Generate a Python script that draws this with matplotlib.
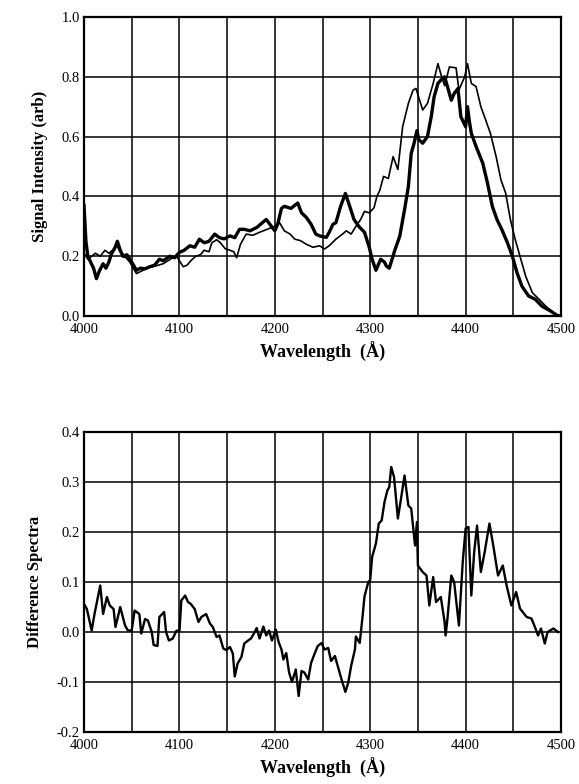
import numpy as np
import matplotlib
matplotlib.use('Agg')
from matplotlib import pyplot as plt
from matplotlib.ticker import MultipleLocator, FormatStrFormatter
from matplotlib.transforms import ScaledTranslation

# top panel, thick trace (wavelength in A, signal in arb)
thick_wl = [4000, 4002, 4004, 4007, 4010, 4013, 4016, 4020, 4023, 4026, 4029, 4032, 4035,
            4038, 4041, 4045, 4048, 4051, 4055, 4059, 4064, 4069, 4074, 4079, 4083, 4090,
            4095, 4100, 4105, 4111, 4116, 4121, 4126, 4131, 4137, 4142, 4147, 4153, 4158,
            4163, 4168, 4174, 4181, 4191, 4200, 4203, 4207, 4210, 4217, 4224, 4228, 4233,
            4238, 4243, 4247, 4254, 4257, 4261, 4264, 4269, 4274, 4278, 4283, 4288, 4294,
            4299, 4302, 4306, 4311, 4315, 4317, 4320, 4326, 4331, 4336, 4340, 4343, 4346,
            4349, 4351, 4355, 4360, 4364, 4367, 4371, 4374, 4378, 4381, 4385, 4388, 4392,
            4395, 4400, 4402, 4404, 4406, 4411, 4418, 4423, 4428, 4433, 4438, 4444, 4449,
            4454, 4459, 4466, 4473, 4480, 4489, 4497, 4500]
thick_val = [0.37, 0.25, 0.20, 0.18, 0.16, 0.125, 0.15, 0.175, 0.16, 0.18, 0.21, 0.225, 0.25,
             0.22, 0.20, 0.205, 0.19, 0.175, 0.153, 0.16, 0.158, 0.165, 0.17, 0.19, 0.185, 0.20,
             0.195, 0.213, 0.22, 0.235, 0.23, 0.257, 0.245, 0.25, 0.274, 0.262, 0.258, 0.268, 0.262,
             0.29, 0.29, 0.285, 0.296, 0.323, 0.285, 0.307, 0.36, 0.367, 0.36, 0.378, 0.345, 0.33,
             0.307, 0.274, 0.268, 0.263, 0.28, 0.307, 0.312, 0.367, 0.41, 0.372, 0.323, 0.30, 0.28,
             0.23, 0.19, 0.153, 0.19, 0.18, 0.167, 0.16, 0.222, 0.267, 0.356, 0.433, 0.544, 0.578,
             0.62, 0.59, 0.578, 0.60, 0.667, 0.733, 0.778, 0.789, 0.80, 0.767, 0.722, 0.744, 0.761,
             0.667, 0.633, 0.70, 0.65, 0.611, 0.567, 0.511, 0.444, 0.367, 0.322, 0.289, 0.244, 0.20,
             0.144, 0.10, 0.067, 0.056, 0.033, 0.017, 0.0, 0.0]

# top panel, thin trace
thin_wl = [4000, 4004, 4008, 4012, 4017, 4022, 4026, 4030, 4034, 4037, 4040, 4044, 4048,
           4052, 4055, 4060, 4066, 4072, 4078, 4083, 4088, 4093, 4097, 4100, 4104, 4108,
           4112, 4117, 4122, 4126, 4131, 4134, 4139, 4143, 4148, 4153, 4157, 4160, 4164,
           4170, 4177, 4184, 4192, 4200, 4205, 4210, 4216, 4221, 4227, 4233, 4240, 4247,
           4252, 4257, 4264, 4271, 4275, 4280, 4285, 4290, 4294, 4299, 4304, 4307, 4310,
           4314, 4319, 4324, 4329, 4334, 4340, 4345, 4348, 4355, 4360, 4366, 4371, 4374,
           4378, 4383, 4390, 4393, 4399, 4402, 4406, 4411, 4416, 4421, 4426, 4432, 4437,
           4442, 4447, 4452, 4458, 4463, 4470, 4477, 4484, 4494, 4500]
thin_val = [0.21, 0.19, 0.20, 0.21, 0.20, 0.22, 0.21, 0.22, 0.24, 0.22, 0.20, 0.195, 0.18,
            0.158, 0.142, 0.15, 0.16, 0.165, 0.17, 0.175, 0.185, 0.195, 0.20, 0.185, 0.165, 0.17,
            0.185, 0.20, 0.205, 0.22, 0.215, 0.245, 0.255, 0.245, 0.225, 0.22, 0.215, 0.195, 0.24,
            0.274, 0.27, 0.28, 0.29, 0.30, 0.312, 0.285, 0.274, 0.257, 0.252, 0.24, 0.23, 0.235,
            0.224, 0.235, 0.257, 0.274, 0.285, 0.274, 0.30, 0.323, 0.35, 0.345, 0.362, 0.40, 0.42,
            0.467, 0.46, 0.533, 0.49, 0.633, 0.711, 0.756, 0.761, 0.689, 0.711, 0.778, 0.844, 0.81,
            0.77, 0.833, 0.83, 0.756, 0.80, 0.844, 0.778, 0.767, 0.70, 0.656, 0.611, 0.533, 0.456,
            0.411, 0.322, 0.256, 0.189, 0.133, 0.078, 0.056, 0.033, 0.006, 0.0]

# bottom panel, difference spectrum
diff_wl = [4000, 4003, 4008, 4011, 4017, 4020, 4024, 4027, 4031, 4033, 4038, 4043, 4046,
           4050, 4053, 4058, 4060, 4064, 4067, 4071, 4073, 4077, 4079, 4084, 4086, 4089,
           4093, 4097, 4100, 4102, 4106, 4109, 4112, 4116, 4120, 4123, 4128, 4132, 4135,
           4139, 4142, 4146, 4149, 4153, 4156, 4158, 4161, 4165, 4168, 4172, 4175, 4179,
           4181, 4184, 4188, 4191, 4194, 4197, 4201, 4204, 4207, 4209, 4212, 4215, 4218,
           4222, 4225, 4228, 4231, 4235, 4238, 4242, 4245, 4249, 4252, 4256, 4259, 4263,
           4266, 4270, 4274, 4277, 4280, 4284, 4285, 4289, 4292, 4294, 4298, 4300, 4302,
           4306, 4309, 4312, 4315, 4318, 4320, 4322, 4325, 4329, 4332, 4336, 4340, 4343,
           4347, 4349, 4350, 4355, 4359, 4362, 4366, 4369, 4374, 4378, 4379, 4381, 4385,
           4388, 4393, 4397, 4400, 4403, 4406, 4409, 4412, 4416, 4420, 4425, 4429, 4434,
           4439, 4443, 4448, 4453, 4457, 4464, 4469, 4472, 4476, 4479, 4483, 4486, 4492,
           4497]
diff_val = [0.056, 0.046, 0.003, 0.036, 0.093, 0.036, 0.07, 0.053, 0.046, 0.01, 0.05, 0.013, 0.003,
            0.003, 0.043, 0.036, -0.003, 0.026, 0.023, 0.0, -0.026, -0.028, 0.03, 0.04, 0.0, -0.017,
            -0.013, 0.003, 0.0, 0.063, 0.073, 0.06, 0.056, 0.046, 0.02, 0.03, 0.036, 0.017, 0.01,
            -0.01, -0.007, -0.033, -0.036, -0.03, -0.043, -0.089, -0.063, -0.05, -0.023, -0.017, -0.013, 0.0,
            0.008, -0.013, 0.011, -0.007, 0.003, -0.017, 0.005, -0.02, -0.035, -0.055, -0.042, -0.081, -0.1,
            -0.075, -0.128, -0.078, -0.081, -0.095, -0.062, -0.042, -0.028, -0.022, -0.035, -0.032, -0.058, -0.048,
            -0.068, -0.095, -0.12, -0.101, -0.068, -0.035, -0.009, -0.022, 0.031, 0.071, 0.10, 0.104, 0.15,
            0.177, 0.217, 0.223, 0.26, 0.283, 0.29, 0.33, 0.31, 0.227, 0.263, 0.313, 0.253, 0.247,
            0.173, 0.22, 0.133, 0.12, 0.113, 0.053, 0.11, 0.06, 0.07, 0.02, -0.007, 0.027, 0.113,
            0.10, 0.013, 0.14, 0.207, 0.21, 0.073, 0.16, 0.213, 0.12, 0.16, 0.217, 0.173, 0.113,
            0.133, 0.093, 0.053, 0.08, 0.047, 0.03, 0.027, 0.013, -0.007, 0.007, -0.023, 0.0, 0.007,
            0.0]

x_ticks = [4000, 4100, 4200, 4300, 4400, 4500]
x_ticklabels = ['4000', '4100', '4200', '4300', '4400', '4500']

plt.rcParams['font.family'] = 'Liberation Serif'

fig = plt.figure(figsize=(5.79, 7.84), dpi=100)
ax1 = fig.add_axes([0.1451, 0.5969, 0.8238, 0.3814])
ax2 = fig.add_axes([0.1451, 0.0663, 0.8238, 0.3827])

def style(ax, ylim, ystep, ylabel):
    ax.set_xlim(4000, 4500)
    ax.set_ylim(*ylim)
    ax.xaxis.set_minor_locator(MultipleLocator(50))
    ax.yaxis.set_major_locator(MultipleLocator(ystep))
    ax.yaxis.set_major_formatter(FormatStrFormatter('%.1f'))
    ax.set_xticks(x_ticks)
    ax.set_xticklabels(x_ticklabels)
    ax.grid(True, which='both', color='black', lw=1.1)
    ax.tick_params(which='both', length=0, labelsize=10.5)
    ax.tick_params(axis='x', pad=5)
    ax.tick_params(axis='y', pad=3)
    for s in ax.spines.values():
        s.set_linewidth(1.6)
    ax.set_xlabel('Wavelength  (Å)', fontsize=13, fontweight='bold', labelpad=4)
    ax.set_ylabel(ylabel, fontsize=12, fontweight='bold', labelpad=10)
    ax.set_axisbelow(True)
    # lowest y label sits a little above the corner, as in the original
    fig.canvas.draw()
    lab = ax.get_yticklabels()[0]
    lab.set_transform(lab.get_transform() + ScaledTranslation(0, 4 / 72, fig.dpi_scale_trans))

ax1.plot(thin_wl, thin_val, color='black', lw=1.2)
ax1.plot(thick_wl, thick_val, color='black', lw=2.4)
style(ax1, (0.0, 1.0), 0.2, 'Signal Intensity (arb)')

ax2.plot(diff_wl, diff_val, color='black', lw=1.7)
style(ax2, (-0.2, 0.4), 0.1, 'Difference Spectra')

fig.savefig('out.png', dpi=100)
